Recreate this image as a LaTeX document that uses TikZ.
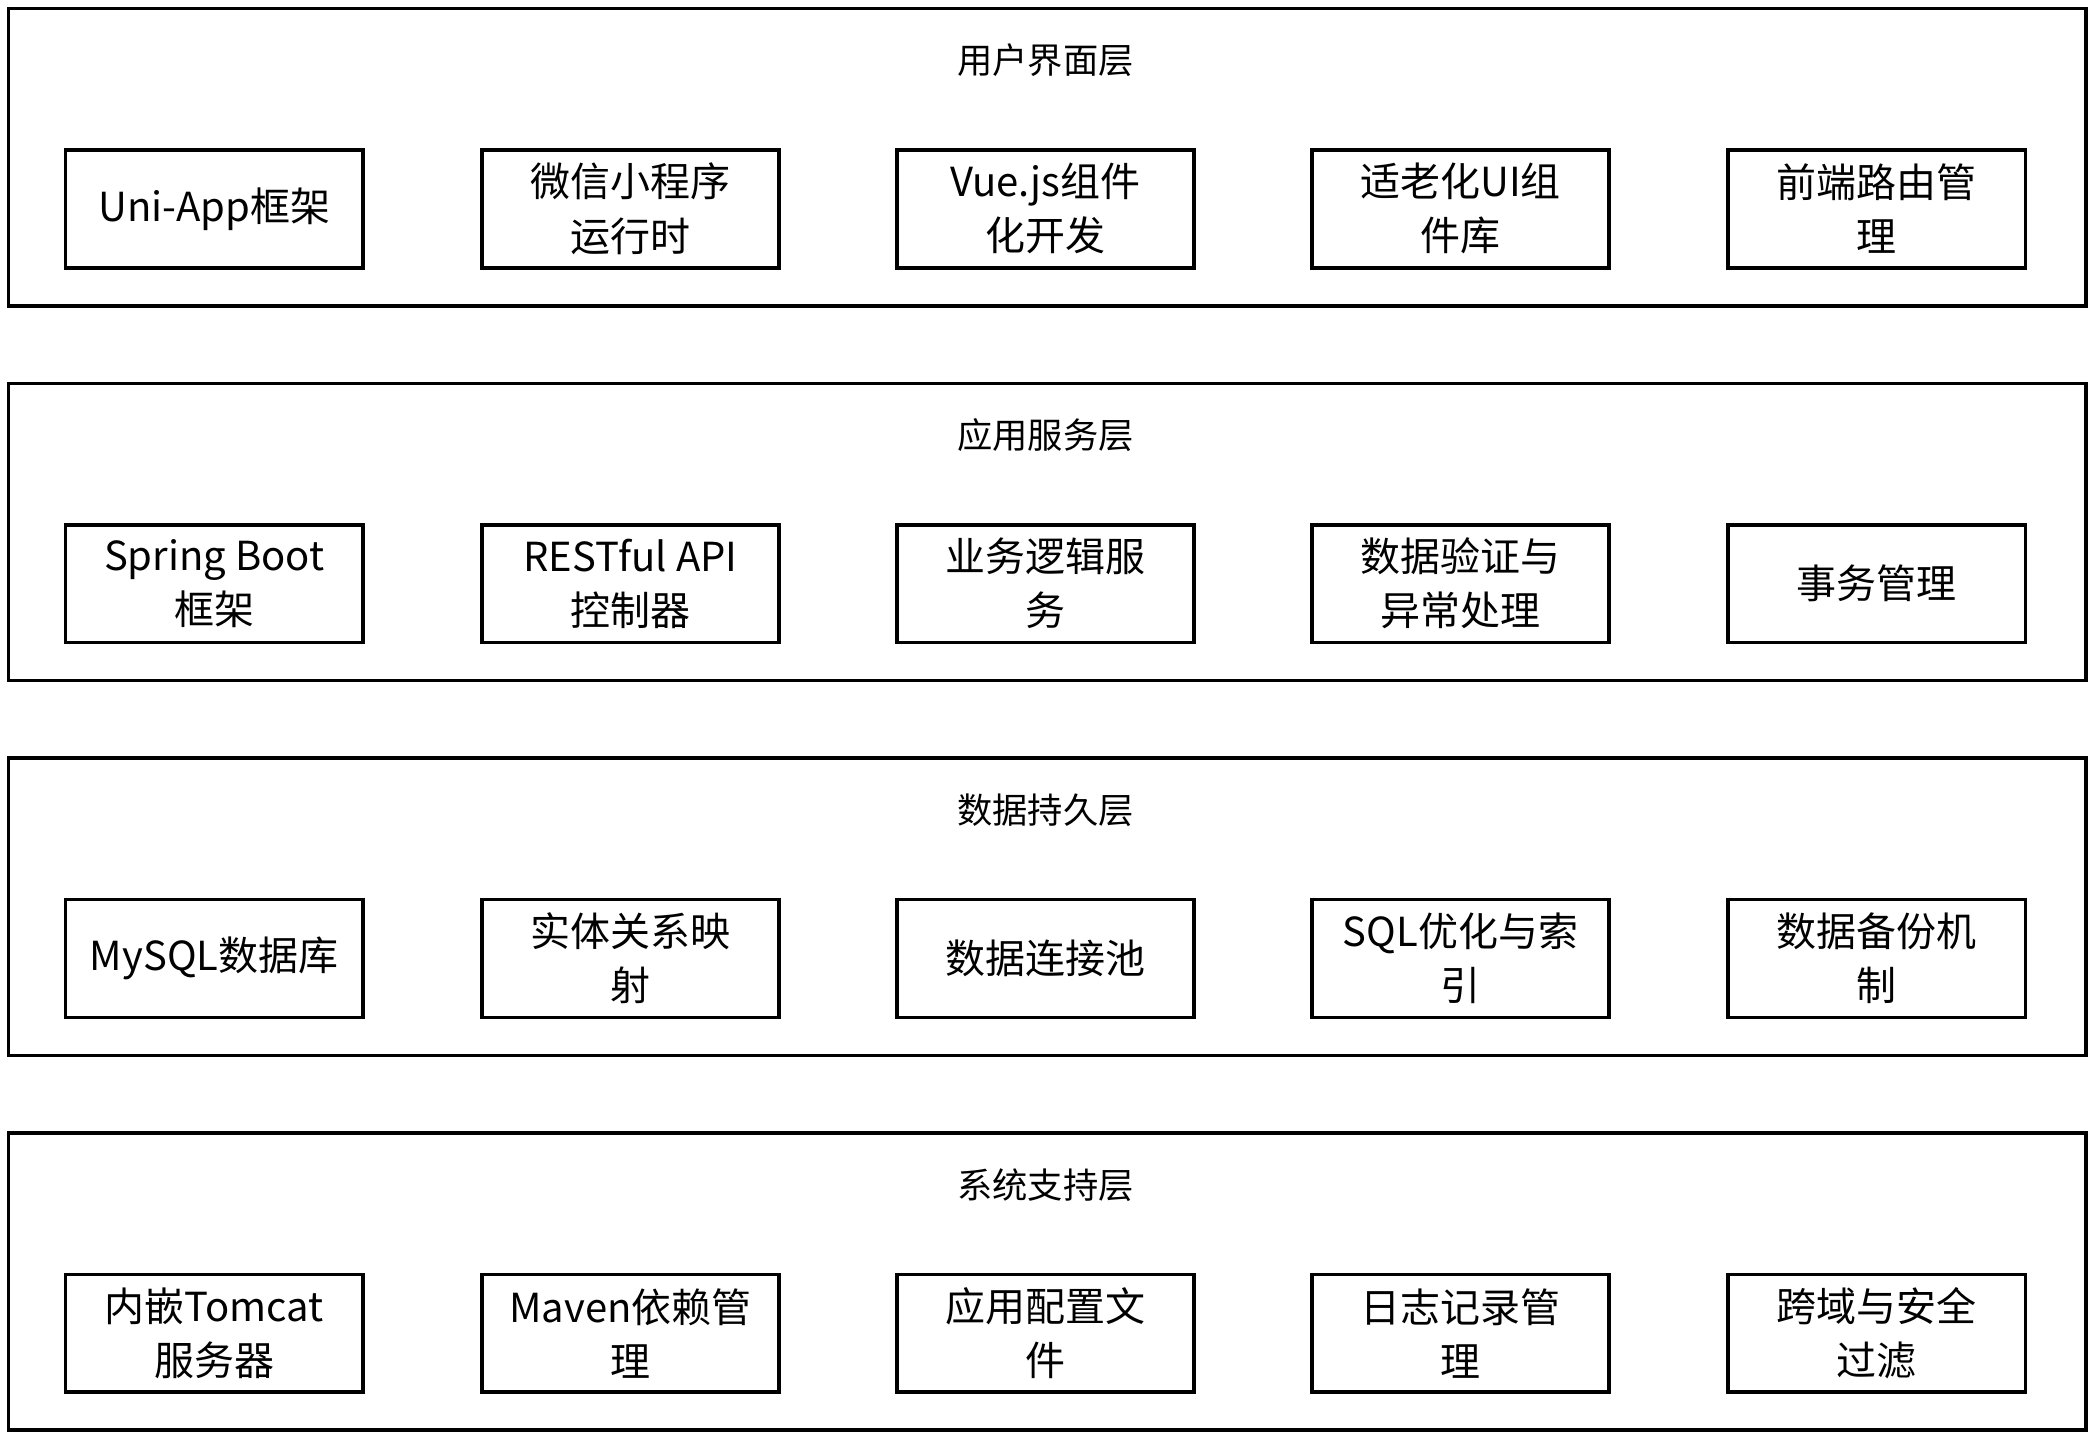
\documentclass[tikz,border=0pt]{standalone}
\usepackage{fontspec}
\setmainfont{Noto Sans CJK SC}
\usetikzlibrary{positioning}
\tikzset{
  layer/.style={rectangle, draw, thick, minimum width=15.52cm, minimum height=2.22cm, anchor=north west},
  item/.style={rectangle, draw, thick, minimum width=2.22cm, minimum height=0.88cm, align=center, font=\fontsize{8.5pt}{11.5pt}\selectfont, inner sep=1pt},
  title/.style={font=\fontsize{7.5pt}{9pt}\selectfont}
}
\begin{document}
\begin{tikzpicture}
    \useasboundingbox (0,0) rectangle (15.62,-10.72);
    % Layer frames and titles
    \foreach \n/\t [count=\i from 0] in {ui/用户界面层, app/应用服务层, data/数据持久层, sys/系统支持层} {
        \node[layer] (\n) at (0.05,-0.05-\i*2.8) {};
        \node[title] (\n-title) at (7.81,-0.45-\i*2.8) {\t};
    }

    % User interface layer
    \node[item] (ui1) at (1.6,-1.56) {Uni-App框架};
    \node[item] (ui2) at (4.71,-1.56) {微信小程序\\运行时};
    \node[item] (ui3) at (7.81,-1.56) {Vue.js组件\\化开发};
    \node[item] (ui4) at (10.91,-1.56) {适老化UI组\\件库};
    \node[item] (ui5) at (14.02,-1.56) {前端路由管\\理};

    % Application service layer
    \node[item] (app1) at (1.6,-4.36) {Spring Boot\\框架};
    \node[item] (app2) at (4.71,-4.36) {RESTful API\\控制器};
    \node[item] (app3) at (7.81,-4.36) {业务逻辑服\\务};
    \node[item] (app4) at (10.91,-4.36) {数据验证与\\异常处理};
    \node[item] (app5) at (14.02,-4.36) {事务管理};

    % Data persistence layer
    \node[item] (data1) at (1.6,-7.16) {MySQL数据库};
    \node[item] (data2) at (4.71,-7.16) {实体关系映\\射};
    \node[item] (data3) at (7.81,-7.16) {数据连接池};
    \node[item] (data4) at (10.91,-7.16) {SQL优化与索\\引};
    \node[item] (data5) at (14.02,-7.16) {数据备份机\\制};

    % System support layer
    \node[item] (sys1) at (1.6,-9.96) {内嵌Tomcat\\服务器};
    \node[item] (sys2) at (4.71,-9.96) {Maven依赖管\\理};
    \node[item] (sys3) at (7.81,-9.96) {应用配置文\\件};
    \node[item] (sys4) at (10.91,-9.96) {日志记录管\\理};
    \node[item] (sys5) at (14.02,-9.96) {跨域与安全\\过滤};
\end{tikzpicture}
\end{document}
